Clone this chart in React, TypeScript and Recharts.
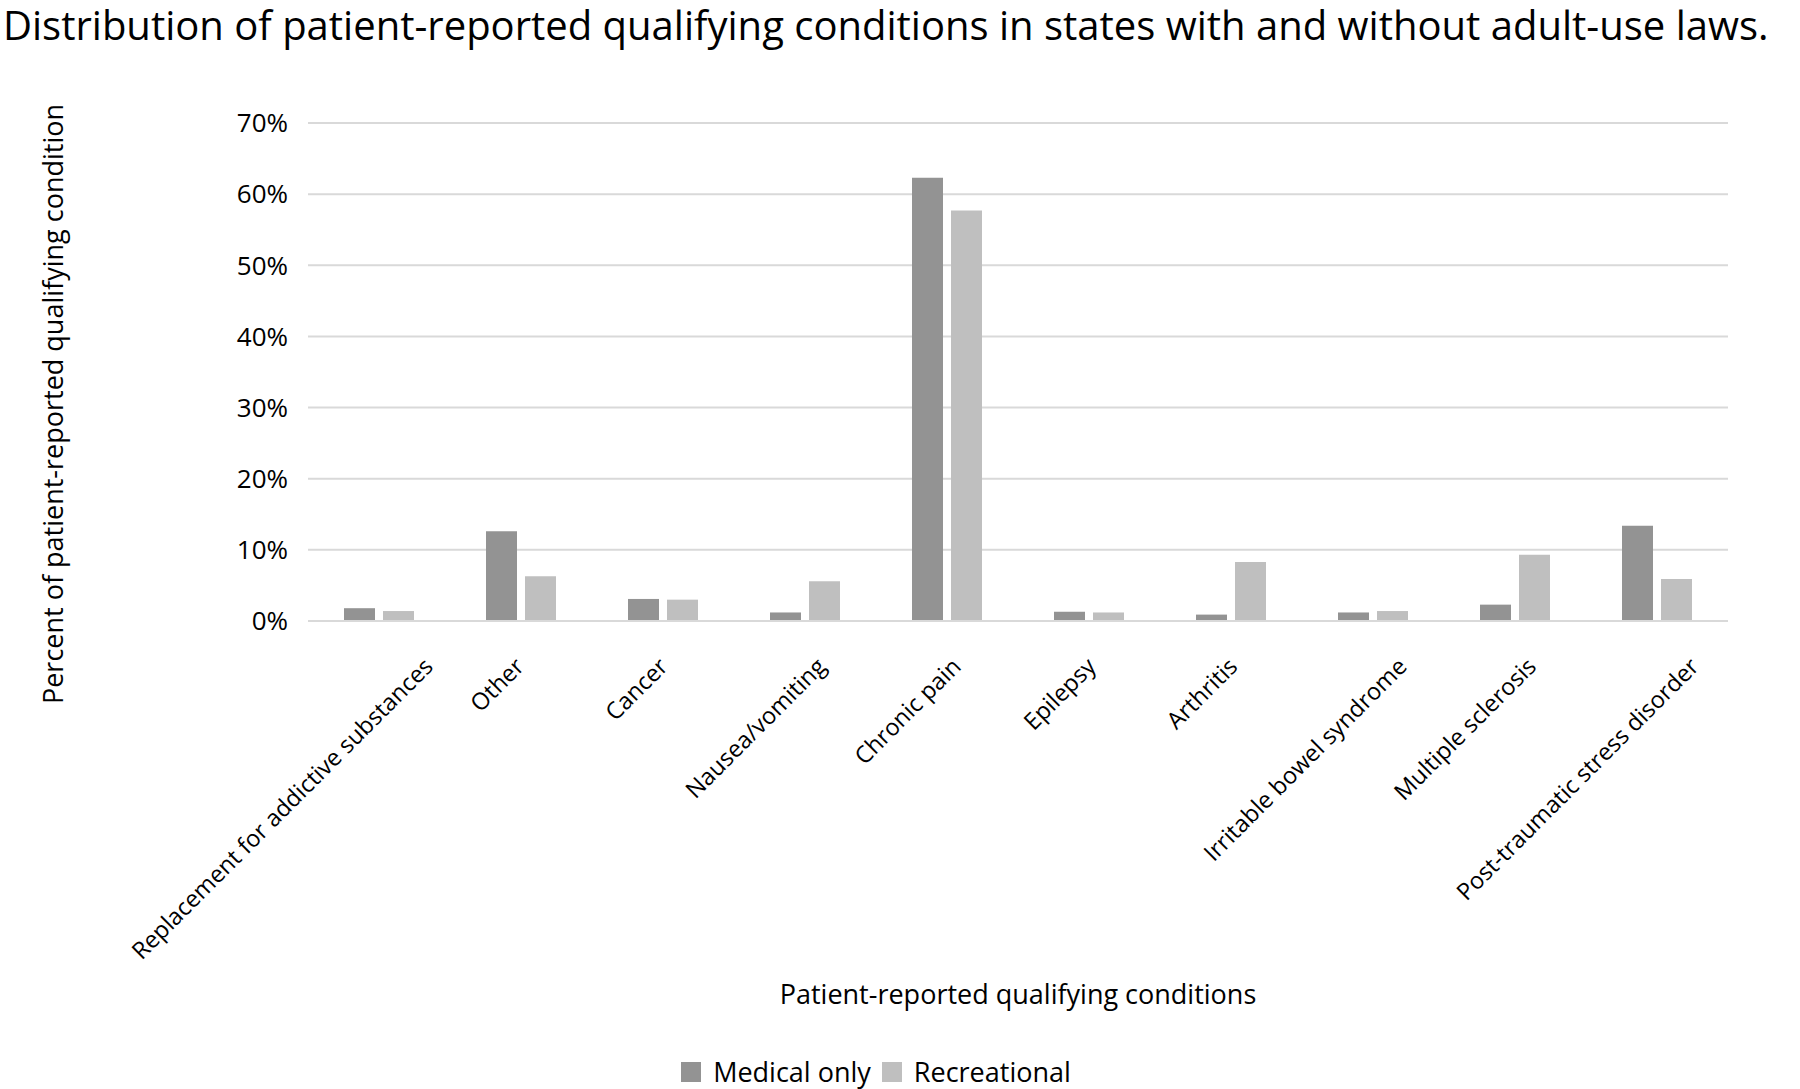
import React from 'react';
import { BarChart, Bar, XAxis, YAxis, CartesianGrid, Legend } from 'recharts';

// Values, in percent
const conditions = [
  'Replacement for addictive substances',
  'Other',
  'Cancer',
  'Nausea/vomiting',
  'Chronic pain',
  'Epilepsy',
  'Arthritis',
  'Irritable bowel syndrome',
  'Multiple sclerosis',
  'Post-traumatic stress disorder'
];
const medicalOnly = [1.8, 12.6, 3.1, 1.2, 62.3, 1.3, 0.9, 1.2, 2.3, 13.4];
const recreational = [1.4, 6.3, 3.0, 5.6, 57.7, 1.2, 8.3, 1.4, 9.3, 5.9];
const yTicks = [0, 10, 20, 30, 40, 50, 60, 70];

const MEDICAL = '#939393';
const REC = '#bfbfbf';
const FONT = '"Open Sans", sans-serif';
const CAT_SIZE = 23.5;

const data = conditions.map((name, i) => ({
  name,
  medical: medicalOnly[i],
  recreational: recreational[i]
}));

let ctx: CanvasRenderingContext2D | null = null;
function textWidth(text: string, font: string) {
  if (!ctx) ctx = document.createElement('canvas').getContext('2d');
  if (!ctx) return text.length * 11;
  ctx.font = font;
  return ctx.measureText(text).width;
}

// Excel-style -45deg labels: longer labels drift right of the tick
function CategoryTick(props: any) {
  const { x, y, payload } = props;
  const w = textWidth(payload.value, `${CAT_SIZE}px ${FONT}`);
  const extent = w * 0.7071 + 12;
  const off = 0.206 * extent - 7.3;
  const px = x + off;
  const py = y + 47;
  return (
    <text
      x={px}
      y={py}
      transform={`rotate(-45 ${px} ${py})`}
      textAnchor="end"
      fontSize={CAT_SIZE}
      fontFamily={FONT}
      fill="#000"
    >
      {payload.value}
    </text>
  );
}

function LegendContent() {
  const items = [
    { label: 'Medical only', color: MEDICAL },
    { label: 'Recreational', color: REC }
  ];
  return (
    <div style={{ display: 'flex', justifyContent: 'center', alignItems: 'center', height: 28 }}>
      {items.map((it, i) => (
        <div
          key={it.label}
          style={{ display: 'flex', alignItems: 'center', marginRight: i === items.length - 1 ? 0 : 11 }}
        >
          <div style={{ width: 20, height: 20, background: it.color, marginRight: 12 }} />
          <span style={{ fontFamily: FONT, fontSize: 27, lineHeight: '28px', color: '#000' }}>
            {it.label}
          </span>
        </div>
      ))}
    </div>
  );
}

export default function App() {
  return (
    <div style={{ position: 'absolute', left: 0, top: 0, width: 1800, height: 1089, background: '#fff' }}>
      <div
        style={{
          position: 'absolute',
          left: 3,
          top: 2,
          whiteSpace: 'nowrap',
          fontFamily: FONT,
          fontSize: 40,
          lineHeight: '46px',
          color: '#000'
        }}
      >
        Distribution of patient-reported qualifying conditions in states with and without adult-use laws.
      </div>
      <div
        style={{
          position: 'absolute',
          left: 52,
          top: 404,
          transform: 'translate(-50%, -50%) rotate(-90deg)',
          whiteSpace: 'nowrap',
          fontFamily: FONT,
          fontSize: 27,
          color: '#000'
        }}
      >
        Percent of patient-reported qualifying condition
      </div>
      <div
        style={{
          position: 'absolute',
          left: 1018,
          top: 993,
          transform: 'translate(-50%, -50%)',
          whiteSpace: 'nowrap',
          fontFamily: FONT,
          fontSize: 27,
          color: '#000'
        }}
      >
        Patient-reported qualifying conditions
      </div>
      <BarChart
        width={1800}
        height={1089}
        data={data}
        margin={{ top: 123, right: 72, left: 0, bottom: 0 }}
        barGap={8}
        barSize={31}
      >
        <CartesianGrid vertical={false} stroke="#d9d9d9" strokeWidth={2} />
        <XAxis
          dataKey="name"
          height={468}
          interval={0}
          tickLine={false}
          tickSize={0}
          tickMargin={0}
          axisLine={{ stroke: '#d9d9d9', strokeWidth: 2 }}
          tick={<CategoryTick />}
        />
        <YAxis
          width={308}
          domain={[0, 70]}
          ticks={yTicks}
          tickFormatter={(v: number) => `${v}%`}
          axisLine={false}
          tickLine={false}
          tickSize={0}
          tickMargin={20}
          tick={{ fontSize: 26, fontFamily: FONT, fill: '#000' }}
        />
        <Legend
          verticalAlign="middle"
          align="center"
          content={<LegendContent />}
          wrapperStyle={{ top: 1058, left: 0, width: 1752 }}
        />
        <Bar dataKey="medical" name="Medical only" fill={MEDICAL} isAnimationActive={false} />
        <Bar dataKey="recreational" name="Recreational" fill={REC} isAnimationActive={false} />
      </BarChart>
    </div>
  );
}
